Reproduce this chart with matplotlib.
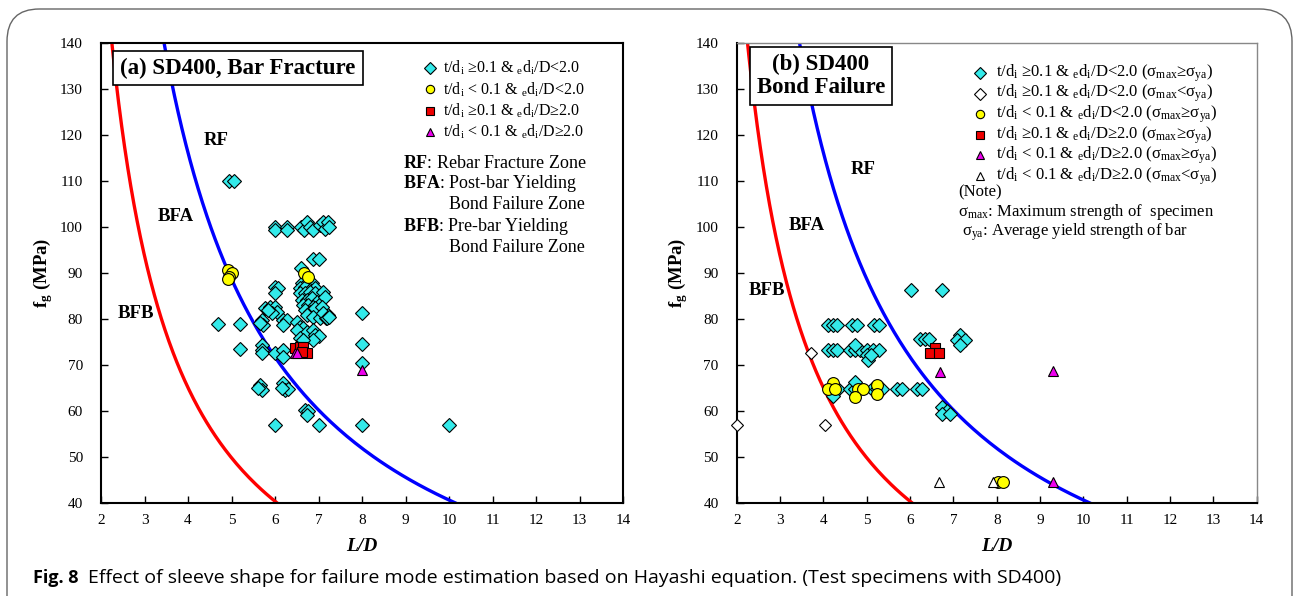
import matplotlib
matplotlib.use('Agg')
import matplotlib.pyplot as plt
import numpy as np
from matplotlib.patches import FancyBboxPatch

plt.rcParams['font.family'] = ['Liberation Serif', 'DejaVu Serif']
plt.rcParams['mathtext.fontset'] = 'custom'
plt.rcParams['mathtext.rm'] = 'Liberation Serif'
plt.rcParams['mathtext.it'] = 'Liberation Serif:italic'
plt.rcParams['mathtext.bf'] = 'Liberation Serif:bold'

# ---- data ----
# Hayashi curves: fg = A / (L/D - x0)
red_A, red_x0 = 212.8, 0.73
blue_A, blue_x0 = 375.2, 0.77

# (a) bar fracture
a_cyan_x = [4.95, 5.05,
            6.0, 6.0, 6.28, 6.28, 6.6, 6.67, 6.73, 6.8, 6.87, 7.03, 7.1, 7.15, 7.22, 7.25,
            6.88, 7.0, 6.59,
            6.61, 6.73, 6.84, 6.57, 6.69, 6.80, 6.92, 6.57, 6.69, 6.8, 6.92,
            6.61, 6.73, 6.84, 6.96, 6.65, 6.77, 6.88, 7.0, 6.69, 6.8, 6.92,
            6.73, 6.88, 7.03, 7.18, 7.22,
            6.0, 6.08, 6.0, 7.11, 7.15,
            5.77, 5.89, 6.0, 6.04, 5.92, 5.85,
            7.07, 7.11, 7.19, 7.23, 7.99,
            4.70, 5.2, 5.69, 5.73, 5.66, 6.19, 6.27, 6.19,
            6.5, 6.57, 6.65, 6.5, 6.73, 6.88, 6.92, 7.0, 6.88, 6.57, 6.65,
            5.2, 5.69, 5.69, 5.69, 6.0, 6.19, 6.19, 7.99, 7.99,
            5.66, 5.69, 5.62, 6.19, 6.23, 6.31, 6.15,
            6.69, 6.77, 6.73,
            6.0, 7.0, 8.0, 10.0]
a_cyan_y = [110, 110,
            100, 99.3, 100, 99.3, 100, 99.3, 101, 100, 99.3, 100.5, 101, 99.5, 101, 100,
            93, 93, 91.0,
            87.8, 87.8, 87.8, 86.7, 87.0, 86.3, 86.7, 85.6, 85.6, 85.9, 85.6,
            84.1, 84.1, 84.5, 83.8, 83.0, 83.0, 82.7, 83.0, 82.0, 81.6, 82.3,
            80.9, 80.5, 80.2, 80.2, 80.9,
            87.0, 86.7, 85.6, 85.9, 84.8,
            82.3, 82.7, 82.7, 81.6, 81.2, 82.0,
            82.7, 81.2, 80.2, 80.5, 81.2,
            78.9, 78.9, 79.8, 78.7, 79.1, 79.8, 79.8, 78.7,
            79.4, 78.3, 78.0, 77.6, 77.2, 77.6, 76.5, 76.2, 75.4, 75.8, 75.4,
            73.4, 74.3, 73.3, 72.5, 72.7, 73.3, 71.8, 74.5, 70.4,
            65.65, 64.6, 64.9, 66.0, 64.6, 64.7, 64.9,
            60.2, 59.9, 59.1,
            57, 57, 57, 57]
a_yellow_x = [4.92, 5.0, 4.95, 4.92, 6.67, 6.76]
a_yellow_y = [90.7, 90.1, 89.2, 88.6, 90.1, 89.1]
a_red_x = [6.46, 6.57, 6.65, 6.73, 6.61]
a_red_y = [73.6, 74.0, 74.0, 72.7, 72.9]
a_mag_x = [6.46, 6.51, 7.99]
a_mag_y = [72.7, 72.7, 68.9]

# (b) bond failure
b_cyan_x = [6.02, 6.73,
            4.11, 4.23, 4.32, 4.65, 4.77, 5.17, 5.29,
            4.11, 4.23, 4.32, 4.61, 4.73, 4.85, 5.0, 5.15, 5.29,
            4.73, 5.0, 5.04, 5.11,
            6.23, 6.35, 6.44,
            7.15, 7.08, 7.27, 7.15,
            4.23, 4.34, 4.61, 4.73, 5.12, 5.23, 5.35, 5.69, 5.81, 6.15, 6.27,
            4.23, 4.73,
            6.73, 6.85, 6.73, 6.92]
b_cyan_y = [86.3, 86.3,
            78.7, 78.7, 78.7, 78.7, 78.7, 78.7, 78.7,
            73.3, 73.3, 73.3, 73.3, 73.3, 73.3, 73.3, 73.3, 73.3,
            74.3, 72.2, 71.1, 72.2,
            75.6, 75.6, 75.6,
            76.5, 75.4, 75.4, 74.3,
            64.7, 64.7, 64.7, 64.7, 64.7, 64.7, 64.7, 64.7, 64.7, 64.7, 64.7,
            63.3, 66.2,
            60.8, 59.9, 59.3, 59.3]
b_wdia_x = [2.0, 3.71, 4.04]
b_wdia_y = [57.0, 72.5, 57.0]
b_yellow_x = [4.23, 4.11, 4.27, 4.81, 4.92, 4.73, 5.23, 5.23, 8.04, 8.14]
b_yellow_y = [66.0, 64.7, 64.7, 64.7, 64.7, 63.1, 65.7, 63.6, 44.6, 44.6]
b_red_x = [6.58, 6.46, 6.67]
b_red_y = [73.6, 72.7, 72.7]
b_mag_x = [6.68, 9.3, 9.3]
b_mag_y = [68.5, 68.8, 44.6]
b_wtri_x = [6.67, 7.92]
b_wtri_y = [44.6, 44.6]

CYAN = '#33eaea'
YEL = '#ffff00'
RED = '#ee0000'
MAG = '#ee00ee'

fig = plt.figure(figsize=(12.93, 5.96), dpi=100)

# rounded frame around the figure (bottom edge falls outside the picture)
frame = FancyBboxPatch((7 / 1293, -0.1), (1292 - 7) / 1293, (596 - 9) / 596 + 0.1,
                       boxstyle='round,pad=0,rounding_size=0.025',
                       transform=fig.transFigure, fill=False,
                       edgecolor='#666666', linewidth=1.0, mutation_aspect=1293 / 596)
fig.patches.append(frame)

ax1 = fig.add_axes([101 / 1293, 93 / 596, 522 / 1293, 460 / 596])
ax2 = fig.add_axes([736.7 / 1293, 93 / 596, 520 / 1293, 460 / 596])

fg = np.linspace(40, 140, 200)


def setup(ax):
    ax.plot(red_A / fg + red_x0, fg, color='#ff0000', lw=2.4, zorder=2)
    ax.plot(blue_A / fg + blue_x0, fg, color='#0000ff', lw=2.4, zorder=2)
    ax.set_xlim(2, 14)
    ax.set_ylim(40, 140)
    ax.set_xticks(range(2, 15))
    ax.set_yticks(range(40, 141, 10))
    ax.tick_params(direction='in', length=5, width=1, labelsize=11,
                   labelfontfamily='Liberation Serif')
    ax.tick_params(axis='y', pad=13)
    ax.tick_params(axis='x', pad=8)
    ax.set_xlabel('L/D', fontsize=14, fontweight='bold', fontstyle='italic', labelpad=8)
    ax.set_ylabel(r'f$_\mathregular{g}$ (MPa)', fontsize=13.5, fontweight='bold', labelpad=4)
    for s in ax.spines.values():
        s.set_linewidth(1.5)


def pts(ax, x, y, marker, face, ms=7, clip=True):
    ax.plot(x, y, linestyle='none', marker=marker, markersize=ms, markerfacecolor=face,
            markeredgecolor='black', markeredgewidth=0.8, zorder=3, clip_on=clip)


setup(ax1)
setup(ax2)
ax2.spines['top'].set_color('#888888')
ax2.spines['right'].set_color('#888888')
ax2.spines['top'].set_linewidth(1.0)
ax2.spines['right'].set_linewidth(1.0)

pts(ax1, a_cyan_x, a_cyan_y, 'D', CYAN, 7)
pts(ax1, a_yellow_x, a_yellow_y, 'o', YEL, 8.5)
pts(ax1, a_red_x, a_red_y, 's', RED, 7)
pts(ax1, a_mag_x, a_mag_y, '^', MAG, 7.5)

pts(ax2, b_cyan_x, b_cyan_y, 'D', CYAN, 7)
pts(ax2, b_wdia_x, b_wdia_y, 'D', 'white', 6.5, clip=False)
pts(ax2, b_yellow_x, b_yellow_y, 'o', YEL, 8.5)
pts(ax2, b_red_x, b_red_y, 's', RED, 7)
pts(ax2, b_mag_x, b_mag_y, '^', MAG, 7.5)
pts(ax2, b_wtri_x, b_wtri_y, '^', 'white', 7.5)

# titles
ax1.text(0.2625, 0.9457, '(a) SD400, Bar Fracture', transform=ax1.transAxes,
         ha='center', va='center', fontsize=16.5, fontweight='bold', zorder=5,
         bbox=dict(boxstyle='square,pad=0.3', facecolor='white', edgecolor='black', lw=1.2))
ax2.text(0.162, 0.928, '(b) SD400\nBond Failure', transform=ax2.transAxes,
         ha='center', va='center', fontsize=16.5, fontweight='bold', zorder=5, linespacing=1.1,
         bbox=dict(boxstyle='square,pad=0.3', facecolor='white', edgecolor='black', lw=1.2))

# zone labels
for ax, pos in ((ax1, [(4.64, 118.9), (3.72, 102.2), (2.80, 81.3)]),
                (ax2, [(4.91, 112.4), (3.62, 100.4), (2.70, 86.3)])):
    for name, (x, y) in zip(['RF', 'BFA', 'BFB'], pos):
        ax.text(x, y, name, ha='center', va='center', fontsize=13.5, fontweight='bold')

sub_i = r'$_\mathregular{i}$'
sub_e = r'$_\mathregular{e}$'
c1 = 't/d' + sub_i + ' \u22650.1 & ' + sub_e + 'd' + sub_i + '/D<2.0'
c2 = 't/d' + sub_i + ' < 0.1 & ' + sub_e + 'd' + sub_i + '/D<2.0'
c3 = 't/d' + sub_i + ' \u22650.1 & ' + sub_e + 'd' + sub_i + '/D\u22652.0'
c4 = 't/d' + sub_i + ' < 0.1 & ' + sub_e + 'd' + sub_i + '/D\u22652.0'
ge = ' (\u03c3$_\\mathregular{max}$\u2265\u03c3$_\\mathregular{ya}$)'
lt = ' (\u03c3$_\\mathregular{max}$<\u03c3$_\\mathregular{ya}$)'

# legend (a)
leg_a = [('D', CYAN, c1), ('o', YEL, c2), ('s', RED, c3), ('^', MAG, c4)]
for i, (m, col, lab) in enumerate(leg_a):
    fy = 0.9457 - i * 0.0464
    ax1.plot([0.630], [fy], marker=m, markersize=6, markerfacecolor=col, markeredgecolor='black',
             markeredgewidth=0.8, transform=ax1.transAxes, linestyle='none')
    ax1.text(0.655, fy, lab, transform=ax1.transAxes, va='center', ha='left', fontsize=11.5)

notes_a = [(0.5785, 0.739, r'$\mathbf{RF}$: Rebar Fracture Zone'),
           (0.5785, 0.6935, r'$\mathbf{BFA}$: Post-bar Yielding'),
           (0.667, 0.648, 'Bond Failure Zone'),
           (0.5785, 0.602, r'$\mathbf{BFB}$: Pre-bar Yielding'),
           (0.667, 0.5565, 'Bond Failure Zone')]
for fx, fy, t in notes_a:
    ax1.text(fx, fy, t, transform=ax1.transAxes, va='center', ha='left', fontsize=13)

# legend (b)
leg_b = [('D', CYAN, c1 + ge), ('D', 'white', c1 + lt), ('o', YEL, c2 + ge),
         ('s', RED, c3 + ge), ('^', MAG, c4 + ge), ('^', 'white', c4 + lt)]
for i, (m, col, lab) in enumerate(leg_b):
    fy = 0.9348 - i * 0.0448
    ax2.plot([0.468], [fy], marker=m, markersize=6, markerfacecolor=col, markeredgecolor='black',
             markeredgewidth=0.8, transform=ax2.transAxes, linestyle='none')
    ax2.text(0.4987, fy, lab, transform=ax2.transAxes, va='center', ha='left', fontsize=12)

ax2.text(0.4256, 0.676, '(Note)', transform=ax2.transAxes, va='center', ha='left', fontsize=12)
ax2.text(0.4256, 0.6326, '\u03c3$_\\mathregular{max}$: Maximum strength of  specimen',
         transform=ax2.transAxes, va='center', ha='left', fontsize=12)
ax2.text(0.433, 0.589, '\u03c3$_\\mathregular{ya}$: Average yield strength of bar',
         transform=ax2.transAxes, va='center', ha='left', fontsize=12)

# caption
fig.text(33 / 1293, 1 - 578 / 596, 'Fig. 8', fontsize=13, fontweight='bold',
         family='Open Sans', va='center', ha='left')
fig.text(88 / 1293, 1 - 578 / 596,
         'Effect of sleeve shape for failure mode estimation based on Hayashi equation. '
         '(Test specimens with SD400)', fontsize=14, family='Open Sans', va='center', ha='left')

fig.savefig('out.png', dpi=100)
